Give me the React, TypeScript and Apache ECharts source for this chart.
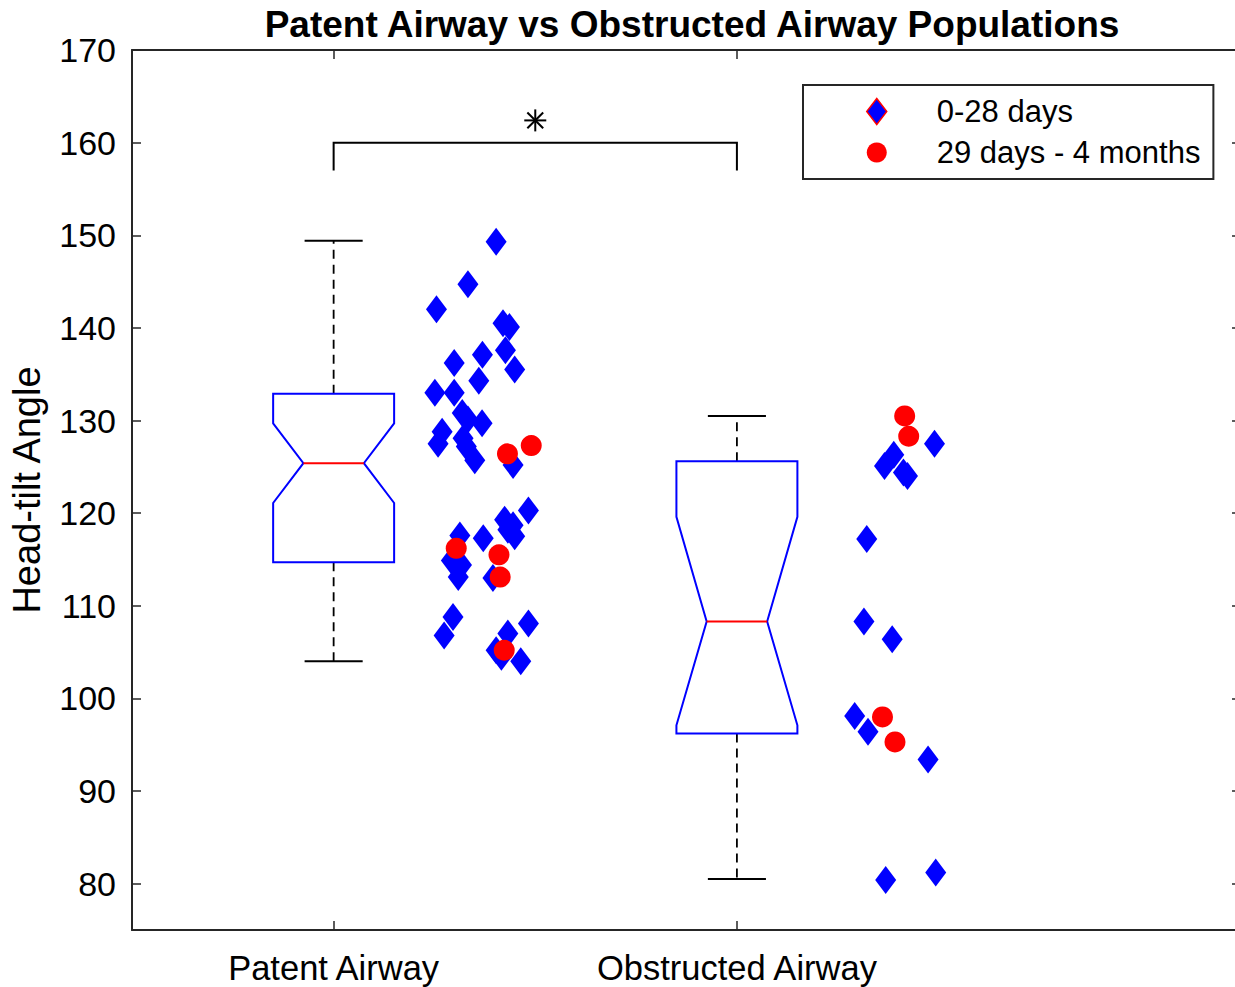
import React, { useEffect, useRef } from "react";
import * as echarts from "echarts";

const FONT = "'Liberation Sans', Arial, Helvetica, sans-serif";
const AXIS_COLOR = "#262626";

const titleText = "Patent Airway vs Obstructed Airway Populations";
const yAxisName = "Head-tilt Angle";
const categories = ["Patent Airway", "Obstructed Airway"];
const categoryPositions = [1, 2];
const yTicks = [80, 90, 100, 110, 120, 130, 140, 150, 160, 170];

// [position, whiskerLow, q1, notchLow, median, notchHigh, q3, whiskerHigh]
const boxStats = [
  [1, 104.0, 114.7, 121.1, 125.4, 129.7, 132.9, 149.4],
  [2, 80.5, 96.2, 97.1, 108.3, 119.6, 125.6, 130.5],
];

// 0-28 days (diamonds): [x, head-tilt angle]
const neonatePoints = [
  [1.403, 149.3], [1.333, 144.7], [1.255, 142.0], [1.42, 140.5], [1.436, 140.1],
  [1.369, 137.1], [1.426, 137.6], [1.299, 136.2], [1.449, 135.5], [1.36, 134.3],
  [1.251, 133.0], [1.299, 133.0], [1.319, 130.8], [1.333, 130.1], [1.368, 129.7],
  [1.269, 128.8], [1.259, 127.5], [1.321, 128.1], [1.329, 127.2], [1.35, 125.7],
  [1.445, 125.2], [1.483, 120.3], [1.424, 119.3], [1.445, 118.7], [1.432, 118.2],
  [1.449, 117.5], [1.313, 117.6], [1.371, 117.3], [1.292, 114.9], [1.317, 114.4],
  [1.309, 113.1], [1.395, 113.0], [1.296, 108.8], [1.274, 106.8], [1.483, 108.1],
  [1.432, 107.0], [1.403, 105.2], [1.416, 104.5], [1.464, 104.0],
  [2.49, 127.5], [2.366, 125.1], [2.389, 126.3], [2.413, 124.4], [2.423, 124.0],
  [2.322, 117.2], [2.315, 108.3], [2.385, 106.4], [2.292, 98.1], [2.325, 96.4],
  [2.474, 93.4], [2.369, 80.4], [2.493, 81.2],
];

// 29 days - 4 months (circles)
const infantPoints = [
  [1.49, 127.3], [1.431, 126.4], [1.304, 116.2], [1.41, 115.5], [1.413, 113.1], [1.423, 105.2],
  [2.416, 130.5], [2.426, 128.3], [2.361, 98.0], [2.392, 95.3],
];

const seriesNames = ["0-28 days", "29 days - 4 months"];

// significance bracket: [x1, x2, yTop, yEnd] and star position
const bracket = [[1, 2, 160, 157]];
const starPoint = [[1.5, 162.4]];

const CHART_W = 1250;
const CHART_H = 987;

export default function App() {
  const ref = useRef<HTMLDivElement>(null);

  useEffect(() => {
    if (!ref.current) return;
    const chart = echarts.init(ref.current, undefined, { renderer: "svg" });

    const BOX_HALF = 0.15;
    const NOTCH_HALF = 0.075;
    const CAP_HALF = 0.072;

    const renderBox = (params: any, api: any) => {
      const p = api.value(0);
      const wl = api.value(1);
      const q1 = api.value(2);
      const nl = api.value(3);
      const md = api.value(4);
      const nh = api.value(5);
      const q3 = api.value(6);
      const wh = api.value(7);
      const c = (x: number, y: number) => api.coord([x, y]);
      const poly = [
        c(p - BOX_HALF, q3), c(p + BOX_HALF, q3), c(p + BOX_HALF, nh), c(p + NOTCH_HALF, md),
        c(p + BOX_HALF, nl), c(p + BOX_HALF, q1), c(p - BOX_HALF, q1), c(p - BOX_HALF, nl),
        c(p - NOTCH_HALF, md), c(p - BOX_HALF, nh),
      ];
      const line = (a: number[], b: number[], style: any) => ({
        type: "line",
        shape: { x1: a[0], y1: a[1], x2: b[0], y2: b[1] },
        style,
      });
      const dashed = { stroke: "#000", lineWidth: 1.8, lineDash: [9, 6] };
      const solid = { stroke: "#000", lineWidth: 2 };
      return {
        type: "group",
        children: [
          line(c(p, q3), c(p, wh), dashed),
          line(c(p, q1), c(p, wl), dashed),
          line(c(p - CAP_HALF, wh), c(p + CAP_HALF, wh), solid),
          line(c(p - CAP_HALF, wl), c(p + CAP_HALF, wl), solid),
          {
            type: "polygon",
            shape: { points: poly },
            style: { fill: "none", stroke: "#0000ff", lineWidth: 2 },
          },
          line(c(p - NOTCH_HALF, md), c(p + NOTCH_HALF, md), { stroke: "#ff0000", lineWidth: 2 }),
        ],
      };
    };

    const renderBracket = (params: any, api: any) => {
      const x1 = api.value(0);
      const x2 = api.value(1);
      const yt = api.value(2);
      const ye = api.value(3);
      return {
        type: "polyline",
        shape: { points: [api.coord([x1, ye]), api.coord([x1, yt]), api.coord([x2, yt]), api.coord([x2, ye])] },
        style: { fill: "none", stroke: "#000", lineWidth: 2 },
      };
    };

    const renderStar = (params: any, api: any) => {
      const ctr = api.coord([api.value(0), api.value(1)]);
      const r = 11;
      const d = r * 0.72;
      const mk = (dx: number, dy: number) => ({
        type: "line",
        shape: { x1: ctr[0] - dx, y1: ctr[1] - dy, x2: ctr[0] + dx, y2: ctr[1] + dy },
        style: { stroke: "#000", lineWidth: 2 },
      });
      return { type: "group", children: [mk(0, r), mk(r, 0), mk(d, d), mk(d, -d)] };
    };

    const tickLabelFmt = (v: number) => {
      const i = categoryPositions.indexOf(v);
      return i >= 0 ? categories[i] : "";
    };

    const xCommon = {
      type: "value",
      min: 0.5,
      max: 3.25,
      splitLine: { show: false },
      axisLine: { show: true, onZero: false, lineStyle: { color: AXIS_COLOR, width: 2 } },
      axisTick: { show: true, inside: true, length: 9, customValues: categoryPositions, lineStyle: { color: AXIS_COLOR, width: 1.5 } },
    };
    const yCommon = {
      type: "value",
      min: 75,
      max: 170,
      splitLine: { show: false },
      axisLine: { show: true, onZero: false, lineStyle: { color: AXIS_COLOR, width: 2 } },
      axisTick: { show: true, inside: true, length: 9, customValues: yTicks, lineStyle: { color: AXIS_COLOR, width: 1.5 } },
    };

    chart.setOption({
      animation: false,
      backgroundColor: "#ffffff",
      title: {
        text: titleText,
        left: 687,
        textAlign: "center",
        top: 1,
        textStyle: { fontFamily: FONT, fontSize: 37, fontWeight: "bold", color: "#000" },
      },
      legend: {
        orient: "vertical",
        left: 803,
        top: 85,
        padding: [11, 13, 11, 63],
        borderColor: AXIS_COLOR,
        borderWidth: 2,
        itemWidth: 20,
        itemHeight: 26,
        itemGap: 10,
        selectedMode: false,
        textStyle: { fontFamily: FONT, fontSize: 31, color: "#000", padding: [0, 0, 0, 45] },
        data: [
          {
            name: seriesNames[0],
            icon: "path://M10,0L20,13L10,26L0,13Z",
            itemStyle: { color: "#0000ff", borderColor: "#ff0000", borderWidth: 1.5 },
          },
          { name: seriesNames[1], icon: "circle", itemStyle: { color: "#ff0000" } },
        ],
      },
      grid: { left: 130, top: 50, right: CHART_W - 1241, bottom: 57, containLabel: false },
      xAxis: [
        {
          ...xCommon,
          position: "bottom",
          axisLabel: {
            show: true,
            customValues: categoryPositions,
            formatter: tickLabelFmt,
            margin: 20,
            fontFamily: FONT,
            fontSize: 34.5,
            color: "#000",
          },
        },
        { ...xCommon, position: "top", axisLabel: { show: false } },
      ],
      yAxis: [
        {
          ...yCommon,
          position: "left",
          name: yAxisName,
          nameLocation: "middle",
          nameRotate: 90,
          nameGap: 86,
          nameTextStyle: { fontFamily: FONT, fontSize: 38, color: "#000" },
          axisLabel: {
            show: true,
            customValues: yTicks,
            margin: 16,
            fontFamily: FONT,
            fontSize: 34,
            color: "#000",
          },
        },
        { ...yCommon, position: "right", axisLabel: { show: false } },
      ],
      series: [
        {
          type: "custom",
          name: "boxes",
          renderItem: renderBox,
          data: boxStats,
          encode: { x: 0, y: [1, 2, 3, 4, 5, 6, 7] },
          z: 2,
          silent: true,
        },
        {
          type: "custom",
          name: "bracket",
          renderItem: renderBracket,
          data: bracket,
          encode: { x: [0, 1], y: [2, 3] },
          z: 2,
          silent: true,
        },
        {
          type: "custom",
          name: "star",
          renderItem: renderStar,
          data: starPoint,
          encode: { x: 0, y: 1 },
          z: 2,
          silent: true,
        },
        {
          type: "scatter",
          name: seriesNames[0],
          symbol: "diamond",
          symbolSize: [21, 28],
          itemStyle: { color: "#0000ff", opacity: 1 },
          data: neonatePoints,
          z: 3,
        },
        {
          type: "scatter",
          name: seriesNames[1],
          symbol: "circle",
          symbolSize: 21,
          itemStyle: { color: "#ff0000", opacity: 1 },
          data: infantPoints,
          z: 4,
        },
      ],
    });

    return () => chart.dispose();
  }, []);

  return (
    <div
      style={{ position: "absolute", left: 0, top: 0, width: 1235, height: 987, overflow: "hidden", background: "#fff" }}
    >
      <div ref={ref} style={{ width: CHART_W, height: CHART_H }} />
    </div>
  );
}
